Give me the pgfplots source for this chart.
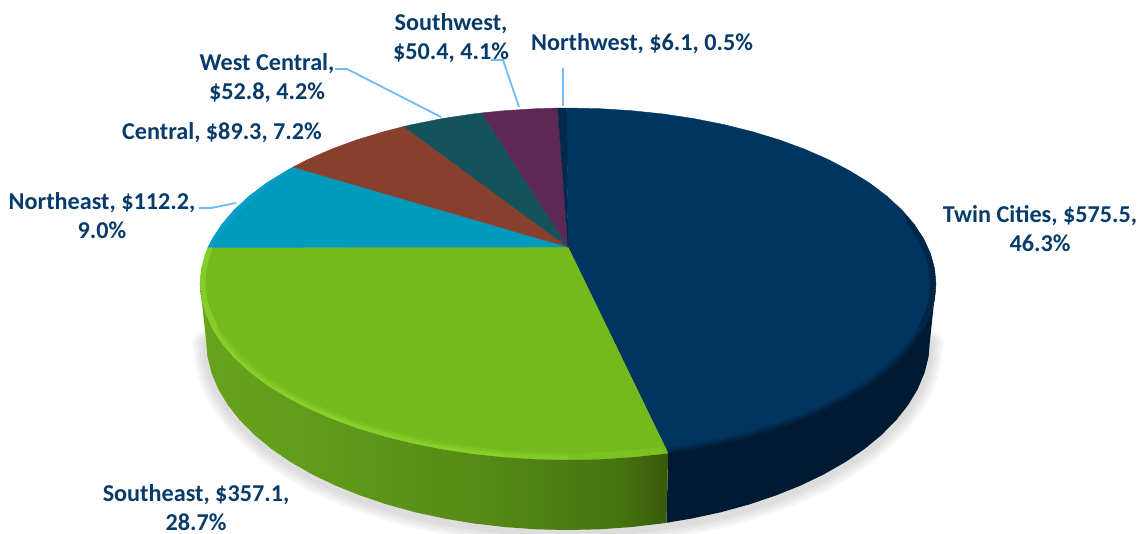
\documentclass[border=0pt]{standalone}
\usepackage{pgfplots}
\usepackage{pgfplotstable}
\usepackage{fontspec}
\setmainfont{Carlito}
\pgfplotsset{compat=1.18}

\definecolor{labelblue}{HTML}{073B69}
\definecolor{leader}{HTML}{72BBF7}
\definecolor{cNavy}{HTML}{003560}
\definecolor{cNavySide}{HTML}{011A33}
\definecolor{cGreen}{HTML}{74BA1D}
\definecolor{cRim}{HTML}{8FD82F}
\definecolor{cBlue}{HTML}{009ABC}
\definecolor{cBrown}{HTML}{873F2E}
\definecolor{cTeal}{HTML}{14535C}
\definecolor{cPurple}{HTML}{5E2856}
\definecolor{cDark}{HTML}{02284A}

\pgfdeclarehorizontalshading{greenside}{100bp}{
  rgb(0bp)=(0.41,0.64,0.11);
  rgb(25bp)=(0.41,0.64,0.11);
  rgb(40bp)=(0.37,0.60,0.10);
  rgb(55bp)=(0.34,0.54,0.09);
  rgb(70bp)=(0.27,0.45,0.06);
  rgb(75bp)=(0.22,0.35,0.04);
  rgb(100bp)=(0.22,0.35,0.04)}

\tikzset{lab/.style={font=\fontsize{24.2}{29}\selectfont\bfseries, text=labelblue, align=center, inner sep=0pt}}

% outline of the lower edge, image pixels
\pgfplotstableread{
x y
930 340
928.6 356.6
924.5 373
917.7 389.2
908.2 405
896.1 420.3
881.5 435
864.5 449
845.3 462.1
824 474.3
800.7 485.5
775.6 495.6
749 504.5
721 512.2
691.8 518.5
666.5 522.8
661.7 523.5
630.9 527.1
599.6 529.3
568 530
536.4 529.3
505.1 527.1
474.3 523.5
444.2 518.5
415 512.2
387 504.5
360.4 495.6
335.3 485.5
312 474.3
290.7 462.1
271.5 449
254.5 435
239.9 420.3
227.8 405
218.3 389.2
211.5 373
207.4 356.6
206 340
}\silhouette

% rim of the top face, navy part
\pgfplotstableread{
x y
923.5 329.5
913.8 344.2
901.5 358.4
886.7 372
869.5 385
849.9 397.1
828.2 408.5
804.6 418.8
779.1 428.2
752 436.4
723.5 443.5
693.9 449.4
668.1 453.3
}\rimNavy

% rim of the top face, green part
\pgfplotstableread{
x y
663.2 454
631.9 457.3
600.1 459.3
568 460
535.9 459.3
504.1 457.3
472.8 454
442.1 449.4
412.5 443.5
384 436.4
356.9 428.2
331.4 418.8
307.8 408.5
286.1 397.1
266.5 385
249.3 372
234.5 358.4
222.2 344.2
212.5 329.5
}\rimGreen

% side wall, navy slice
\pgfplotstableread{
x y
936 284
930 340
928.6 356.6
924.5 373
917.7 389.2
908.2 405
896.1 420.3
881.5 435
864.5 449
845.3 462.1
824 474.3
800.7 485.5
775.6 495.6
749 504.5
721 512.2
691.8 518.5
666.5 522.8
668.1 453.3
693.9 449.4
723.5 443.5
752 436.4
779.1 428.2
804.6 418.8
828.2 408.5
849.9 397.1
869.5 385
886.7 372
901.5 358.4
913.8 344.2
923.5 329.5
930.4 314.6
934.6 299.3
}\sideNavy

% side wall, green slice
\pgfplotstableread{
x y
666.5 522.8
661.7 523.5
630.9 527.1
599.6 529.3
568 530
536.4 529.3
505.1 527.1
474.3 523.5
444.2 518.5
415 512.2
387 504.5
360.4 495.6
335.3 485.5
312 474.3
290.7 462.1
271.5 449
254.5 435
239.9 420.3
227.8 405
218.3 389.2
211.5 373
207.4 356.6
206 340
200 284
201.4 299.3
205.6 314.6
212.5 329.5
222.2 344.2
234.5 358.4
249.3 372
266.5 385
286.1 397.1
307.8 408.5
331.4 418.8
356.9 428.2
384 436.4
412.5 443.5
442.1 449.4
472.8 454
504.1 457.3
535.9 459.3
568 460
600.1 459.3
631.9 457.3
663.2 454
668.1 453.3
}\sideGreen

\begin{document}
\begin{tikzpicture}
\begin{axis}[
    scale only axis,
    width=1139pt,
    height=533pt,
    xmin=0, xmax=1139,
    ymin=0, ymax=533,
    y dir=reverse,
    axis lines=none,
    clip mode=individual,
]

% soft shadow
\addplot[draw=black, opacity=0.035, line width=26pt, yshift=-3pt, line join=round, line cap=round] table[x=x,y=y] {\silhouette};
\addplot[draw=black, opacity=0.035, line width=20pt, yshift=-3pt, line join=round, line cap=round] table[x=x,y=y] {\silhouette};
\addplot[draw=black, opacity=0.035, line width=14pt, yshift=-3pt, line join=round, line cap=round] table[x=x,y=y] {\silhouette};
\addplot[draw=black, opacity=0.035, line width=8pt, yshift=-3pt, line join=round, line cap=round] table[x=x,y=y] {\silhouette};

% top face
\addplot[fill=cNavy, draw=cNavy, line width=0.4pt] coordinates {(568,247)(566.7,108)(568,108)(600.1,108.7)(631.9,110.7)(663.2,114)(693.9,118.6)(723.5,124.5)(752,131.6)(779.1,139.8)(804.6,149.2)(828.2,159.5)(849.9,170.9)(869.5,183)(886.7,196)(901.5,209.6)(913.8,223.8)(923.5,238.5)(930.4,253.4)(934.6,268.7)(936,284)(934.6,299.3)(930.4,314.6)(923.5,329.5)(913.8,344.2)(901.5,358.4)(886.7,372)(869.5,385)(849.9,397.1)(828.2,408.5)(804.6,418.8)(779.1,428.2)(752,436.4)(723.5,443.5)(693.9,449.4)(668.1,453.3)} -- cycle;
\addplot[fill=cGreen, draw=cGreen, line width=0.4pt] coordinates {(568,247)(668.1,453.3)(663.2,454)(631.9,457.3)(600.1,459.3)(568,460)(535.9,459.3)(504.1,457.3)(472.8,454)(442.1,449.4)(412.5,443.5)(384,436.4)(356.9,428.2)(331.4,418.8)(307.8,408.5)(286.1,397.1)(266.5,385)(249.3,372)(234.5,358.4)(222.2,344.2)(212.5,329.5)(205.6,314.6)(201.4,299.3)(200,284)(201.4,268.7)(205.6,253.4)(208,247.4)} -- cycle;
\addplot[fill=cBlue, draw=cBlue, line width=0.4pt] coordinates {(568,247)(208,247.4)(212.5,238.5)(222.2,223.8)(234.5,209.6)(249.3,196)(266.5,183)(286.1,170.9)(293.1,167)} -- cycle;
\addplot[fill=cBrown, draw=cBrown, line width=0.4pt] coordinates {(568,247)(293.1,167)(307.8,159.5)(331.4,149.2)(356.9,139.8)(384,131.6)(403.9,126.5)} -- cycle;
\addplot[fill=cTeal, draw=cTeal, line width=0.4pt] coordinates {(568,247)(403.9,126.5)(412.5,124.5)(442.1,118.6)(472.8,114)(482.1,112.9)} -- cycle;
\addplot[fill=cPurple, draw=cPurple, line width=0.4pt] coordinates {(568,247)(482.1,112.9)(504.1,110.7)(535.9,108.7)(557.7,108.1)} -- cycle;
\addplot[fill=cDark, draw=cDark, line width=0.4pt] coordinates {(568,247)(557.7,108.1)(566.7,108)} -- cycle;

% bevel along the rim, the wall drawn next hides the outer half
\addplot[draw=cNavySide, opacity=0.25, line width=12pt] table[x=x,y=y] {\rimNavy};
\addplot[draw=cNavySide, opacity=0.35, line width=7pt] table[x=x,y=y] {\rimNavy};
\addplot[draw=cNavySide, opacity=0.5, line width=3pt] table[x=x,y=y] {\rimNavy};
\addplot[draw=cRim, opacity=0.25, line width=14pt, restrict x to domain=0:670] table[x=x,y=y] {\rimGreen};
\addplot[draw=cRim, opacity=0.4, line width=9pt, restrict x to domain=0:600] table[x=x,y=y] {\rimGreen};
\addplot[draw=cRim, opacity=0.5, line width=5pt, restrict x to domain=0:505] table[x=x,y=y] {\rimGreen};

% thin crescents on the rim near the widest point
\addplot[fill=cNavySide, opacity=0.55, draw=none] coordinates {(901.5,209.6)(913.8,223.8)(923.5,238.5)(930.4,253.4)(934.6,268.7)(936,284)(934.6,299.3)(930.4,314.6)(923.5,329.5)(918.5,326)(925,312)(929,298)(930,284)(928.5,269)(924.5,254)(917.5,239)(908,225)} -- cycle;
\addplot[fill=cRim, opacity=0.6, draw=none] coordinates {(212.5,329.5)(205.6,314.6)(201.4,299.3)(200,284)(201.4,268.7)(205.6,253.4)(208,247.4)(213,247.4)(210,256)(206.5,269)(205.5,284)(207,298)(211,312)(218,326)} -- cycle;
\addplot[fill=cyan!70!cBlue, opacity=0.4, draw=none] coordinates {(208,247.4)(212.5,238.5)(222.2,223.8)(234.5,209.6)(249.3,196)(266.5,183)(286.1,170.9)(293.1,167)(268,186)(252,199)(238,213)(226,227)(217,241)(213,247.4)} -- cycle;

% side wall
\addplot[fill=cNavySide, draw=none] table[x=x,y=y] {\sideNavy} -- cycle;
\addplot[shading=greenside, draw=none] table[x=x,y=y] {\sideGreen} -- cycle;

% leader lines
\addplot[draw=leader, line width=1.8pt] coordinates {(563,68)(563,106)};
\addplot[draw=leader, line width=1.8pt] coordinates {(491,60)(503,60)(519,107)};
\addplot[draw=leader, line width=1.8pt] coordinates {(335,69)(347,69)(441,117)};
\addplot[draw=leader, line width=1.8pt] coordinates {(199,208)(211,208)(236,203)};

% labels
\node[lab] at (axis cs:642,43.5) {Northwest, \$6.1, 0.5\%};
\node[lab] at (axis cs:451,38) {Southwest,\\\$50.4, 4.1\%};
\node[lab] at (axis cs:267,78) {West Central,\\\$52.8, 4.2\%};
\node[lab] at (axis cs:222,132.5) {Central, \$89.3, 7.2\%};
\node[lab] at (axis cs:102,216) {Northeast, \$112.2,\\9.0\%};
\node[lab] at (axis cs:1040,229) {Twin Cities, \$575.5,\\46.3\%};
\node[lab] at (axis cs:196,507.5) {Southeast, \$357.1,\\28.7\%};

\end{axis}
\pgfresetboundingbox
\useasboundingbox (0,0) rectangle (1139pt,533pt);
\end{tikzpicture}
\end{document}
